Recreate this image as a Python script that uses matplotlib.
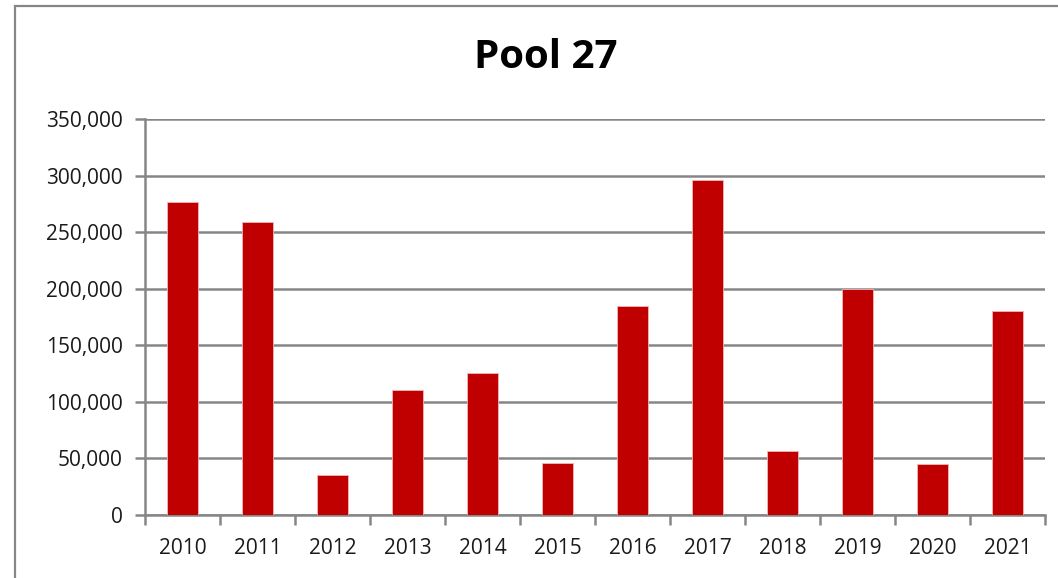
import matplotlib.pyplot as plt
from matplotlib.patches import Rectangle
from matplotlib.ticker import FuncFormatter

anos = ['2010', '2011', '2012', '2013', '2014', '2015',
        '2016', '2017', '2018', '2019', '2020', '2021']
valores = [277000, 259000, 35000, 110000, 125000, 46000,
           185000, 296000, 56000, 200000, 44500, 180000]

cinza = '#868686'

fig = plt.figure(figsize=(10.58, 5.78), dpi=100)
ax = fig.add_axes([0.137, 0.1097, 0.851, 0.684])

x = range(len(anos))
ax.bar(x, valores, width=0.41, color='#C00000', edgecolor='#F2B8B8', linewidth=0.6, zorder=3)

ax.set_xlim(-0.5, len(anos) - 0.5)
ax.set_ylim(0, 350000)
ax.set_yticks(range(0, 350001, 50000))
ax.yaxis.set_major_formatter(FuncFormatter(lambda v, p: f'{int(v):,}'))
ax.grid(axis='y', color=cinza, lw=1.8, zorder=0)

# rotulos no meio, ticks nas divisas das categorias
ax.set_xticks([i - 0.5 for i in range(len(anos) + 1)])
ax.set_xticklabels([])
ax.set_xticks(list(x), minor=True)
ax.set_xticklabels(anos, minor=True)
ax.tick_params(axis='x', which='minor', length=0, pad=17)
ax.tick_params(axis='x', which='major', length=7, width=1.8, color=cinza)
ax.tick_params(axis='y', length=7, width=1.8, color=cinza, pad=9)
ax.tick_params(labelsize=15, labelcolor='#1a1a1a', which='both')

for s in ['top', 'right']:
    ax.spines[s].set_visible(False)
for s in ['left', 'bottom']:
    ax.spines[s].set_color(cinza)
    ax.spines[s].set_linewidth(1.8)

for lab in ax.get_xticklabels(minor=True) + ax.get_yticklabels():
    lab.set_family('Open Sans')

fig.text(0.516, 1 - 57 / 578, 'Pool 27', ha='center', va='center',
         fontsize=29, fontweight='bold', family='Open Sans')

# moldura do grafico (cortada na direita e embaixo)
fig.patches.append(Rectangle((15 / 1058, -0.1), 1.2, (578 - 6) / 578 + 0.1,
                             transform=fig.transFigure, fill=False,
                             edgecolor=cinza, lw=1.6))

fig.savefig('out.png', dpi=100)
